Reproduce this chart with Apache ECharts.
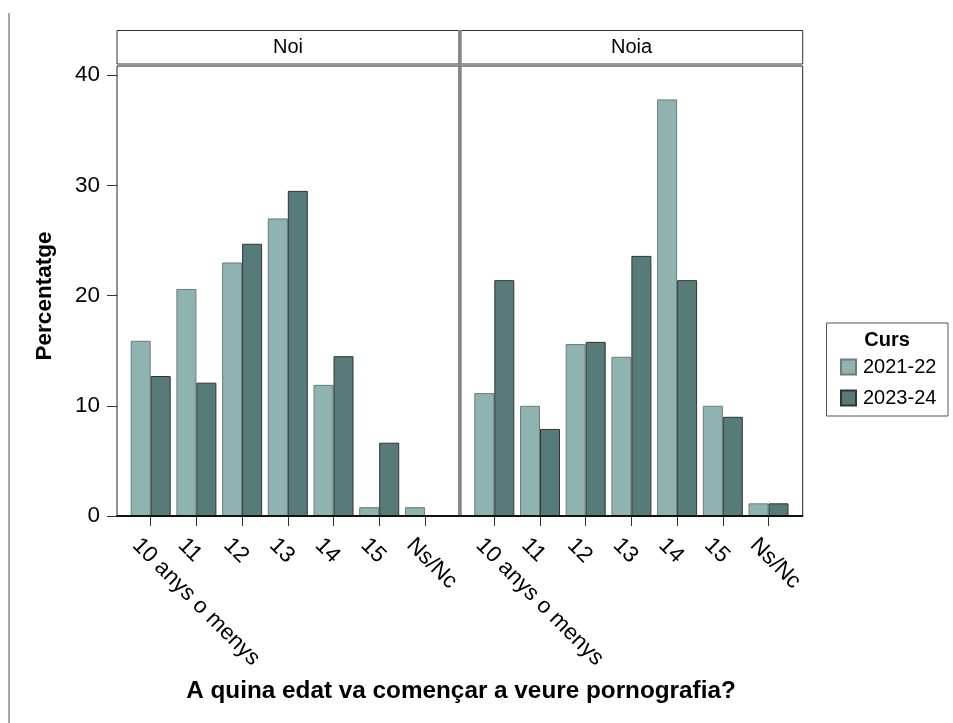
<!DOCTYPE html>
<html>
<head>
<meta charset="utf-8">
<script src="https://cdn.jsdelivr.net/npm/echarts@6/dist/echarts.min.js"></script>
<style>
html,body{margin:0;padding:0;background:#fff;}
#c{width:953px;height:723px;}
</style>
</head>
<body>
<div id="c"></div>
<script>
const categories = ['10 anys o menys', '11', '12', '13', '14', '15', 'Ns/Nc'];
const panels = ['Noi', 'Noia'];
const seriesNames = ['2021-22', '2023-24'];
const noi2122 = [15.9, 20.6, 23.0, 27.0, 11.9, 0.8, 0.8];
const noi2324 = [12.7, 12.1, 24.7, 29.5, 14.5, 6.65, 0];
const noia2122 = [11.15, 10.0, 15.6, 14.45, 37.8, 10.0, 1.15];
const noia2324 = [21.4, 7.9, 15.8, 23.6, 21.4, 9.0, 1.15];
const yTicks = [0, 10, 20, 30, 40];
const legendTitle = 'Curs';
const xTitle = 'A quina edat va començar a veure pornografia?';
const yTitle = 'Percentatge';

const FONT = 'Liberation Sans, Arial, sans-serif';
const light = '#8fb3b0';
const dark = '#567b79';
const lightBorder = '#6b7c7b';
const darkBorder = '#333333';

const plotTop = 66, plotBottom = 516, plotH = plotBottom - plotTop;
const bandW = 45.7;
const panelX = [117, 460.5];
const gridLeft = [127.85, 471.45];
const yMax = 40.83;

const chart = echarts.init(document.getElementById('c'), null, {renderer: 'canvas'});

const grids = [0, 1].map(i => ({
  left: gridLeft[i], top: plotTop, width: bandW * 7, height: plotH,
  outerBoundsMode: 'none', containLabel: false
}));

const xAxes = [0, 1].map(i => ({
  type: 'category', gridIndex: i, data: categories,
  axisLine: {show: false},
  axisTick: {show: true, alignWithLabel: true, length: 10, lineStyle: {color: '#333', width: 1}},
  axisLabel: {rotate: -45, fontSize: 22.5, fontFamily: FONT, color: '#000', margin: 11, interval: 0,
              verticalAlign: 'top', lineHeight: 42}
}));

const yAxes = [0, 1].map(i => ({
  type: 'value', gridIndex: i, min: 0, max: yMax,
  show: i === 0,
  offset: gridLeft[0] - panelX[0],
  splitLine: {show: false},
  axisLine: {show: false},
  axisTick: {show: true, length: 10, lineStyle: {color: '#333', width: 1}, customValues: yTicks},
  axisLabel: {fontSize: 22.5, fontFamily: FONT, color: '#000', margin: 17, customValues: yTicks}
}));

function mkSeries(name, data, idx, color, border) {
  return {
    type: 'bar', name: name, data: data,
    xAxisIndex: idx, yAxisIndex: idx,
    barWidth: 20, barGap: '0%',
    itemStyle: {color: color, borderColor: border, borderWidth: 1},
    emphasis: {disabled: true}
  };
}

const series = [
  mkSeries(seriesNames[0], noi2122, 0, light, lightBorder),
  mkSeries(seriesNames[1], noi2324, 0, dark, darkBorder),
  mkSeries(seriesNames[0], noia2122, 1, light, lightBorder),
  mkSeries(seriesNames[1], noia2324, 1, dark, darkBorder)
];

const graphics = [
  {type: 'line', shape: {x1: 9, y1: 13, x2: 9, y2: 723}, style: {stroke: '#8a8a8a', lineWidth: 1.5}, silent: true},
  {type: 'rect', shape: {x: 117, y: 30.5, width: 342, height: 33.5}, style: {fill: '#fff', stroke: '#333', lineWidth: 1}, silent: true},
  {type: 'rect', shape: {x: 460.5, y: 30.5, width: 342.2, height: 33.5}, style: {fill: '#fff', stroke: '#333', lineWidth: 1}, silent: true},
  {type: 'text', style: {text: panels[0], x: 117 + 171, y: 47.5, align: 'center', verticalAlign: 'middle', fontSize: 20, fontFamily: FONT, fill: '#000'}, silent: true},
  {type: 'text', style: {text: panels[1], x: 460.5 + 171, y: 47.5, align: 'center', verticalAlign: 'middle', fontSize: 20, fontFamily: FONT, fill: '#000'}, silent: true},
  {type: 'rect', z: 10, shape: {x: 117, y: 66, width: 342, height: 450}, style: {fill: null, stroke: '#222', lineWidth: 1}, silent: true},
  {type: 'rect', z: 10, shape: {x: 460.5, y: 66, width: 342.2, height: 450}, style: {fill: null, stroke: '#222', lineWidth: 1}, silent: true},
  {type: 'line', z: 11, shape: {x1: 460, y1: 30, x2: 460, y2: 516}, style: {stroke: '#888', lineWidth: 3.5}, silent: true},
  {type: 'line', z: 12, shape: {x1: 116.5, y1: 516, x2: 803.2, y2: 516}, style: {stroke: '#111', lineWidth: 2}, silent: true},
  {type: 'text', style: {text: xTitle, x: 461, y: 691, align: 'center', verticalAlign: 'middle', fontSize: 24.3, fontWeight: 'bold', fontFamily: FONT, fill: '#000'}, silent: true},
  {type: 'text', rotation: Math.PI / 2, x: 45, y: 296, style: {text: yTitle, x: 0, y: 0, align: 'center', verticalAlign: 'middle', fontSize: 22.5, fontWeight: 'bold', fontFamily: FONT, fill: '#000'}, silent: true},
  {type: 'rect', shape: {x: 826.5, y: 323, width: 121.5, height: 93}, style: {fill: '#fff', stroke: '#555', lineWidth: 1}, silent: true, z: -1},
  {type: 'text', style: {text: legendTitle, x: 887, y: 340, align: 'center', verticalAlign: 'middle', fontSize: 20, fontWeight: 'bold', fontFamily: FONT, fill: '#000'}, silent: true}
];

chart.setOption({
  animation: false,
  backgroundColor: '#fff',
  grid: grids,
  xAxis: xAxes,
  yAxis: yAxes,
  legend: {
    data: seriesNames,
    orient: 'vertical',
    left: 835, top: 352,
    itemWidth: 15, itemHeight: 15, itemGap: 11,
    icon: 'rect',
    selectedMode: false,
    textStyle: {fontSize: 20, fontFamily: FONT, color: '#000', padding: [0, 0, 0, 2]}
  },
  series: series,
  graphic: graphics
});
</script>
</body>
</html>
